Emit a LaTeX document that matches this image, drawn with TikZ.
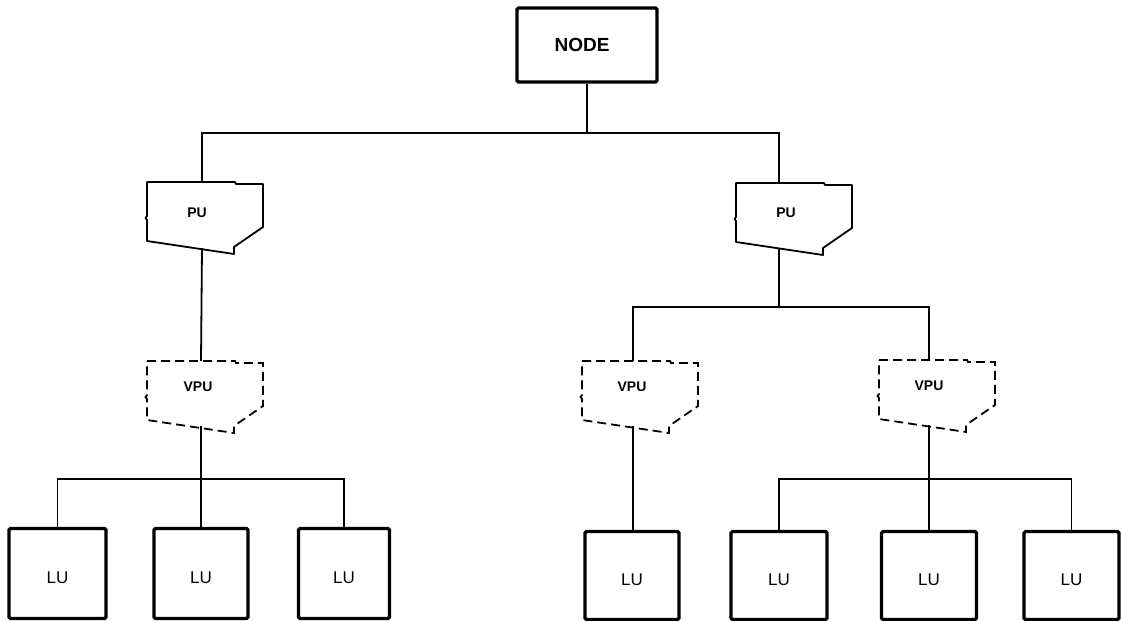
\documentclass[tikz,border=0pt]{standalone}
\usepackage{fontspec}
\newfontfamily\labelfont{Liberation Sans}
\begin{document}
\begin{tikzpicture}[x=1pt, y=-1pt,
  wire/.style={line width=1.8pt},
  heavybox/.style={draw, line width=3.2pt, rounded corners=1.5pt, inner sep=0pt},
  nodebox/.style={heavybox, minimum width=140pt, minimum height=74pt,
    font=\labelfont\bfseries\fontsize{19}{19}\selectfont},
  lubox/.style={heavybox, minimum height=90pt, text height=20pt, text depth=0pt,
    font=\labelfont\fontsize{17}{17}\selectfont},
  cardtext/.style={inner sep=0pt, font=\labelfont\bfseries\fontsize{14}{14}\selectfont},
  solidcard/.style={line width=1.8pt, line join=round},
  dashedcard/.style={line width=1.8pt, dash pattern=on 9pt off 5pt},
  punchcard/.pic={
    \draw (0,0) -- (88,0) -- (89,2) -- (116,2) -- (116,45) -- (87,65)
      -- (87,72) -- (0,59) -- (0,38) -- (-1.5,36) -- (0,34) -- cycle;
  },
]
\useasboundingbox (0,0) rectangle (1122,621);

% top level
\node[nodebox] (node) at (587,45) {\kern-10pt NODE};

% physical units
\pic[solidcard] at (147,182) {punchcard};
\pic[solidcard] at (736,183) {punchcard};
\node[cardtext] (pu1) at (197,213) {PU};
\node[cardtext] (pu2) at (786,213) {PU};
\coordinate (pu1in) at (202,182);
\coordinate (pu1out) at (202,248);
\coordinate (pu2in) at (779,184);
\coordinate (pu2out) at (779,248);

% virtual physical units
\pic[dashedcard] at (147,361) {punchcard};
\pic[dashedcard] at (582,361) {punchcard};
\pic[dashedcard] at (879,360) {punchcard};
\node[cardtext] (vpu1) at (198,387) {VPU};
\node[cardtext] (vpu2) at (632,387) {VPU};
\node[cardtext] (vpu3) at (929,386) {VPU};
\coordinate (vpu1in) at (201,361);
\coordinate (vpu1out) at (201,426);
\coordinate (vpu2in) at (633,361);
\coordinate (vpu2out) at (633,426);
\coordinate (vpu3in) at (929,360);
\coordinate (vpu3out) at (929,425);

% logical units
\node[lubox, minimum width=97pt] (lu1) at (57.5,573.5) {LU};
\node[lubox, minimum width=94pt] (lu2) at (201,573.5) {LU};
\node[lubox, minimum width=91pt] (lu3) at (344,573.5) {LU};
\node[lubox, minimum width=94pt, minimum height=88pt] (lu4) at (632,575.5) {LU};
\node[lubox, minimum width=96pt, minimum height=88pt] (lu5) at (779,575.5) {LU};
\node[lubox, minimum width=95pt, minimum height=88pt] (lu6) at (929,575.5) {LU};
\node[lubox, minimum width=95pt, minimum height=88pt] (lu7) at (1071.5,575.5) {LU};

% bus heights
\coordinate (busA) at (0,133);
\coordinate (busB) at (0,307);
\coordinate (busC) at (0,479);

% node to physical units
\draw[wire] (node.south) -- (node.south |- busA);
\draw[wire] (pu1in) -- (pu1in |- busA) -- (pu2in |- busA) -- (pu2in);

% left branch
\draw[wire] (pu1out) -- (vpu1in);
\draw[wire] (vpu1out) -- (lu2.north);
\draw[wire] (lu1.north) -- (lu1.north |- busC) -- (lu3.north |- busC) -- (lu3.north);

% right branch
\draw[wire] (pu2out) -- (pu2out |- busB);
\draw[wire] (vpu2in) -- (vpu2in |- busB) -- (vpu3in |- busB) -- (vpu3in);
\draw[wire] (vpu2out) -- (vpu2out |- lu4.north);
\draw[wire] (vpu3out) -- (vpu3out |- lu6.north);
\draw[wire] (lu5.north) -- (lu5.north |- busC) -- (lu7.north |- busC) -- (lu7.north);
\end{tikzpicture}
\end{document}
